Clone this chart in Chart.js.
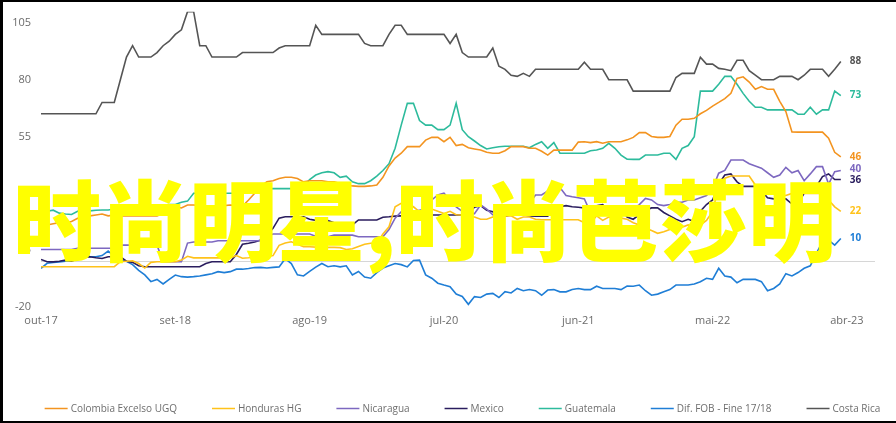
<!DOCTYPE html>
<html><head><meta charset="utf-8">
<script src="https://cdn.jsdelivr.net/npm/chart.js@4.4.1/dist/chart.umd.min.js"></script>
<style>
html,body{margin:0;padding:0;background:#000;width:896px;height:423px;overflow:hidden;}
#frame{position:absolute;left:3px;top:2px;width:893px;height:419px;background:#fff;overflow:hidden;}
#c{position:absolute;left:0;top:0;width:893px;height:419px;}
#overlay{position:absolute;left:10px;top:170px;font-family:"Noto Sans CJK SC";font-weight:900;font-size:88px;line-height:88px;color:#ffff00;white-space:nowrap;pointer-events:none;}
</style></head>
<body><div id="frame"><canvas id="c" width="893" height="419"></canvas><div id="overlay">时尚明星,时尚芭莎明</div></div>
<script>
// x axis: half-month periods starting Oct 2017; tick labels every 11 months
const xTickLabels = ['out-17','set-18','ago-19','jul-20','jun-21','mai-22','abr-23'];
const periodsPerTick = 22;
const yTicks = [-20, 5, 30, 55, 80, 105];

const seriesNames = ['Colombia Excelso UGQ','Honduras HG','Nicaragua','Mexico','Guatemala','Dif. FOB - Fine 17/18','Costa Rica'];

const colombia = [16,16,16.5,17,17,17.5,18.9,19.5,20,20.4,
20.8,20,20.4,20,20,20,20,20,20,20,
21,22.5,24,23.5,24.8,24.8,24.5,23.8,24,24,
24.5,24.8,24.5,24.3,27,30,33,35,35.5,36.5,
37,37,36.5,35,35.5,35.5,35.5,35,35,34.3,
33.6,33.2,33,33,33.2,33.6,37,42,45.5,47.6,
50.5,50.5,50.5,53.4,54.6,54.6,52.7,54.6,51,51.5,
50,49.5,49,48,47.6,47.6,48.7,50.5,50.5,50.5,
49.8,49.8,48.5,46.8,49,49,49,49,52.5,52.7,
52.3,52.7,52,52.7,52.7,52.7,53.5,54.6,56.7,56.7,
55,54.6,54.6,55,60,62.6,62.6,63,65,66.5,
68.4,70,71.7,74,80.6,81.3,79,75.8,77,75.8,
75.8,70.5,66,57,56.9,56.9,56.9,56.9,56.9,54.2,
48,46];

const honduras = [-2.4,-2.4,-2.4,-2.4,-2.4,-2.4,-2.4,-2.4,-2.4,-2.4,
-2.4,-2.4,-2.4,-0.2,0,0.2,-1,-3,-0.5,-0.2,
-0.2,-0.2,-0.2,0.5,2.2,1.5,1.5,1.5,1.5,1.5,
1.5,1.5,2.5,1.3,1.5,2,2,2,2.5,7,
8,8.6,7.5,6.4,6.4,6.2,6.2,6.1,6.1,6,
5.2,5.5,6.5,7.5,7.9,8,12,15.2,24,25.5,
25.5,24,21.8,21.5,23,22,21,22,20.5,20.4,
19.5,19.5,18.5,18.5,19.5,20.5,20,20,18.5,19.5,
19.5,18.5,18.3,18.3,18.3,18.3,18.3,18.3,18.3,17,
16.7,20,18,19.5,19,19,18.5,17,16,14.5,
13.5,12.3,13,14,15,15,16,15,16,18,
22,33,36.6,37.6,37.6,37.6,37.6,33.6,29.9,29.9,
30,29.5,29,29.9,29.9,29.9,29.9,29.9,29.9,27,
24,22];

const nicaragua = [5.2,5.2,5.2,5.2,5.2,5.2,5.7,5.7,5.7,5.7,
5.7,5.7,5.7,7.1,7.1,7.1,7.1,7.1,7.1,7.1,
-0.2,-0.2,-0.2,-0.2,8,8.5,8.5,8.5,8.5,9,
9,9,9,9,9,9,9,11,12,12,
12,12,12,12,12,11,10.8,10.8,11.5,11.5,
11.5,11.5,10.8,10.8,10.8,10.8,10.8,14,19,21.8,
22,22,22.5,23,27,29.2,30,27,24,22,
21.1,21,24.8,23,20.5,20,20,20.5,21,23,
25.5,29.2,29.2,31,32,32.5,29,28.4,28,27.5,
21.5,21,20.5,20.5,20,20,21,23,25,27.7,
27,25,24.5,25,26,26,27,27,28,29,
32,38.8,40,44.6,44.6,44.6,43,42,41,39,
37,38,41.4,39,40,35.5,38.5,41.7,41.7,34,
39.5,40];

const mexico = [0.8,-0.2,-0.3,0,0.5,0,1,1.5,2,1.5,
1.2,2,2,2,0,-0.5,-2,-2.4,-2.4,-2.4,
-2.4,-2.4,-2.4,-2.4,-2.4,-2.4,-2.4,-1,-0.2,-0.2,
-0.2,-0.2,3,7.5,7.9,8.5,9.3,11.5,14.5,19,
19.6,19.6,19.6,19.6,18.5,18,18,17.9,17,16,
16,16,18.2,18.2,18.2,18.2,19.4,19.6,19.9,20,
20,20,20.2,20.4,20.4,20.4,20.4,20.4,20.4,20.4,
21,23.8,24.5,22.5,21.8,20,19.9,20.5,21.5,20.5,
20,19.9,19.9,19.9,23.8,24,24.5,24,23.8,23.5,
22,24.5,25,22,22.5,23,19.5,18.5,20.5,22.5,
23.5,23.5,21.5,20,18.5,17.4,18.5,17.5,22,25,
27,34,38,38.5,35,33,33,33,31,28,
27.5,27.5,27.5,25.2,25.2,30,33,33,37.3,38.5,
36,36];

const guatemala = [21,22,22.5,21.2,20.8,20.6,22,22.6,22.2,22.5,
22.6,22.6,23,23,23.5,23.5,24,24,24.5,24.8,
24.8,25,25,26,26.5,30,30,30,30,30,
30,30,30,30.5,31,31.5,32,32,32,32,
32,32,32,33,36,38,39,39.5,39,37,
37.5,35,34.2,34.2,35.5,37.5,40,43,49.8,60,
69.6,69.6,62,60,60,58,58,60,69.6,58,
54.9,53,51,49.5,50,50.5,50.7,50.7,50.7,50.7,
50,51.5,52.7,49.8,52.3,47.6,47.6,47.6,47.6,47.6,
48.7,49,49.8,52,49.8,46.8,45,44.9,44.9,46.8,
46.8,46.8,47.6,47.6,44.9,49.8,51,54.9,75,75,
75,78,81.5,81.5,78,74,70.5,67.9,67.9,66.7,
66.7,66.7,66.7,66.7,64.8,64.8,67.9,64.8,66.7,66.7,
75,73];

const difFob = [-3.1,-0.9,-0.5,-0.3,0,0.5,2,3.2,2,2,
2.5,4.5,2,0.5,0,-1.5,-4,-6,-9,-8,
-10,-8,-6.1,-6.8,-7,-6.8,-6.5,-6,-5.5,-4.6,
-5,-4.6,-3.5,-3.5,-3.2,-2.8,-2.7,-3,-2.7,-2.5,
1.1,-1,-6,-6.5,-4.5,-2.6,-1,-2.4,-2,-2.5,
-2,-6,-4.5,-7,-7.5,-5,-3,-2,-1,-1.5,
-2.5,0.3,0.5,-6,-7.5,-9.7,-10.5,-11.2,-14.5,-15.5,
-19,-15.6,-16,-14.5,-14.2,-16,-13.4,-14,-12,-13,
-12.5,-13,-15,-12.7,-12.5,-13.5,-13.5,-12.5,-12,-12.5,
-12.5,-11,-12,-12,-12,-12.5,-10.9,-11,-10.5,-13,
-15,-14.5,-13.5,-12.5,-10.5,-10.5,-10.5,-10,-9,-7.5,
-8,-3.1,-6.5,-7,-9.5,-8,-8,-8,-9,-13,
-12,-10,-5.5,-6.5,-5,-3.1,-2,3.5,8.6,9.3,
7.1,10];

const costaRica = [65,65,65,65,65,65,65,65,65,65,
70,70,70,80,90,95,90,90,90,92,
95,97,100,102,110,110,95,95,90,90,
90,90,90,92,92,92,92,92,92,94,
95,95,95,95,95,104,100,100,100,100,
100,100,100,96,95,95,95,100,104,104,
100,100,100,100,100,100,100,96,100,92,
90,90,90,90,94,86,84.6,82,81.5,82.8,
81.5,84.6,84.6,84.6,84.6,84.6,84.6,84.6,84.6,87.7,
84.6,84.6,84.6,80,80,80,80,75,75,75,
75,75,75,75,81,82.8,82.8,82.8,89.9,86.9,
86.9,85,84.6,84,88.6,88.6,84,82,80,80,
80,81.5,81.5,81.5,80,82,84.6,84.6,84.6,81.5,
84.6,88];

const seriesValues = [colombia, honduras, nicaragua, mexico, guatemala, difFob, costaRica];
const seriesColors = ['#f39420','#ffc21a','#7d68c0','#2a1d5e','#2dbb9c','#1f7ed6','#555555'];

const toPoints = arr => arr.map((v, i) => ({x: i, y: v}));

const zeroLine = {
  id: 'zeroLine',
  beforeDatasetsDraw(chart) {
    const {ctx, chartArea, scales} = chart;
    const y = Math.round(scales.y.getPixelForValue(0)) + 0.5;
    ctx.save();
    ctx.strokeStyle = '#d6d6d6';
    ctx.lineWidth = 1;
    ctx.beginPath();
    ctx.moveTo(chartArea.left, y);
    ctx.lineTo(chartArea.right, y);
    ctx.stroke();
    ctx.restore();
  }
};

const endLabels = {
  id: 'endLabels',
  afterDatasetsDraw(chart) {
    const {ctx} = chart;
    const items = chart.data.datasets.map((ds, i) => {
      const meta = chart.getDatasetMeta(i);
      const pt = meta.data[meta.data.length - 1];
      const raw = ds.data[ds.data.length - 1].y;
      return {x: pt.x, y: pt.y, text: String(Math.round(raw)), color: ds.borderColor};
    }).sort((a, b) => a.y - b.y);
    const gap = 11;
    for (let iter = 0; iter < 20; iter++) {
      for (let k = 1; k < items.length; k++) {
        const d = items[k].y - items[k - 1].y;
        if (d < gap) {
          const push = (gap - d) / 2;
          items[k - 1].y -= push;
          items[k].y += push;
        }
      }
    }
    ctx.save();
    ctx.font = "bold 10px 'Open Sans'";
    ctx.textAlign = 'left';
    ctx.textBaseline = 'middle';
    items.forEach(it => {
      ctx.fillStyle = it.color;
      ctx.fillText(it.text, it.x + 9, it.y);
    });
    ctx.restore();
  }
};

const bottomLegend = {
  id: 'bottomLegend',
  afterDraw(chart, args, opts) {
    const {ctx} = chart;
    ctx.save();
    ctx.font = "10px 'Open Sans'";
    ctx.textBaseline = 'middle';
    ctx.textAlign = 'left';
    const lineLen = 23, textGap = 3, itemGap = 35;
    const items = chart.data.datasets.map(ds => ({
      text: ds.label, color: ds.borderColor,
      w: lineLen + textGap + ctx.measureText(ds.label).width
    }));
    const total = items.reduce((a, b) => a + b.w, 0) + itemGap * (items.length - 1);
    let x = opts.centerX - total / 2;
    const y = opts.y;
    items.forEach(it => {
      ctx.strokeStyle = it.color;
      ctx.lineWidth = 1.5;
      ctx.beginPath();
      ctx.moveTo(x, y + 0.5);
      ctx.lineTo(x + lineLen, y + 0.5);
      ctx.stroke();
      ctx.fillStyle = '#6e6e6e';
      ctx.fillText(it.text, x + lineLen + textGap, y + 1);
      x += it.w + itemGap;
    });
    ctx.restore();
  }
};

new Chart(document.getElementById('c'), {
  type: 'line',
  data: {
    datasets: seriesNames.map((name, i) => ({
      label: name,
      data: toPoints(seriesValues[i]),
      borderColor: seriesColors[i],
      backgroundColor: seriesColors[i],
      borderWidth: 1.6,
      pointRadius: 0,
      tension: 0,
      fill: false
    }))
  },
  options: {
    responsive: false,
    animation: false,
    layout: {padding: {top: 9.7, right: 21, bottom: 92.4, left: 0}},
    plugins: {
      legend: {display: false},
      tooltip: {enabled: false},
      bottomLegend: {centerX: 459.5, y: 406}
    },
    scales: {
      x: {
        type: 'linear',
        min: 0,
        max: 136.6,
        grid: {display: false, drawTicks: false},
        border: {display: false},
        afterBuildTicks: s => { s.ticks = xTickLabels.map((_, k) => ({value: k * periodsPerTick})); },
        afterFit: s => { s.height = 22; },
        ticks: {
          autoSkip: false, maxRotation: 0, padding: 8,
          color: '#6b6b6b', font: {family: "'Open Sans'", size: 11},
          callback: v => xTickLabels[Math.round(v / periodsPerTick)]
        }
      },
      y: {
        min: -20,
        max: 110,
        grid: {display: false, drawTicks: false},
        border: {display: false},
        afterBuildTicks: s => { s.ticks = yTicks.map(v => ({value: v})); },
        afterFit: s => { s.width = 38; s.paddingTop = 0; s.paddingBottom = 0; },
        ticks: {padding: 10, color: '#6b6b6b', font: {family: "'Open Sans'", size: 11}}
      }
    }
  },
  plugins: [zeroLine, endLabels, bottomLegend]
});
</script>
</body></html>
